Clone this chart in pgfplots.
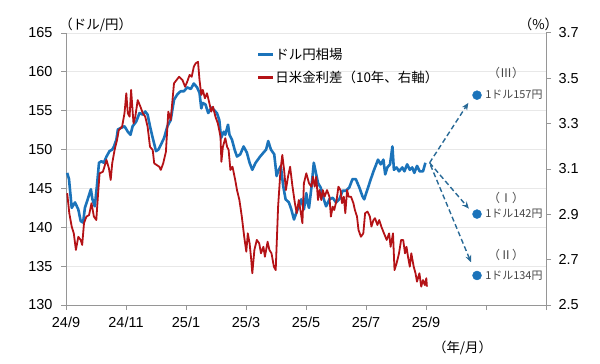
\documentclass[border=0pt]{standalone}
\usepackage{pgfplots}
\pgfplotsset{compat=1.18}
\usepackage{fontspec}
\setmainfont{Liberation Sans}
\newfontfamily\jp{Noto Sans CJK JP}
\usetikzlibrary{arrows.meta}
\definecolor{bl}{RGB}{27,115,186}
\definecolor{rd}{RGB}{180,18,22}
\definecolor{ar}{RGB}{40,105,150}
\definecolor{axgray}{RGB}{150,150,150}
\definecolor{grd}{RGB}{232,232,232}
\definecolor{lbl}{RGB}{70,70,70}

\pgfplotstableread{
m v
0.04 147.0
0.10 146.2
0.19 142.5
0.30 143.2
0.41 142.3
0.49 140.8
0.57 140.6
0.63 142.5
0.74 143.8
0.83 144.9
0.88 143.6
0.96 142.7
1.03 145.3
1.10 148.3
1.18 148.5
1.26 148.3
1.35 149.1
1.45 149.8
1.54 150.0
1.60 150.4
1.68 151.3
1.73 152.6
1.84 152.8
1.95 153.0
2.06 152.3
2.15 151.9
2.22 153.0
2.34 153.6
2.45 154.7
2.56 154.5
2.64 154.9
2.72 154.5
2.80 153.0
2.89 151.5
3.00 149.8
3.08 150.0
3.16 150.6
3.27 151.5
3.38 153.0
3.49 153.8
3.60 156.4
3.71 157.1
3.82 157.5
3.93 157.5
4.04 158.0
4.16 157.8
4.26 158.5
4.37 158.0
4.45 157.3
4.51 155.3
4.56 156.0
4.65 155.8
4.74 154.7
4.85 155.4
4.93 155.1
5.03 154.7
5.11 153.8
5.17 151.5
5.26 152.3
5.31 151.9
5.40 153.2
5.45 151.9
5.53 151.3
5.62 150.0
5.70 149.1
5.81 149.4
5.92 150.4
6.03 149.6
6.12 148.3
6.21 147.4
6.32 148.3
6.47 149.1
6.58 149.6
6.67 150.0
6.74 151.1
6.83 150.0
6.94 149.4
7.02 146.6
7.07 147.2
7.16 147.9
7.24 145.3
7.32 143.6
7.43 143.2
7.51 142.3
7.60 141.0
7.68 141.9
7.76 142.7
7.84 143.6
7.93 142.3
8.01 144.4
8.05 143.2
8.10 142.5
8.18 145.1
8.26 148.3
8.32 147.2
8.40 145.7
8.49 145.1
8.56 144.0
8.67 142.7
8.78 143.6
8.89 143.8
9.00 143.2
9.11 143.6
9.22 144.7
9.33 144.7
9.44 145.1
9.55 146.2
9.66 146.2
9.78 145.1
9.88 144.0
9.94 143.6
10.05 144.9
10.16 146.2
10.25 147.2
10.32 147.9
10.40 148.7
10.49 148.1
10.58 148.7
10.64 146.8
10.71 147.7
10.80 148.1
10.88 150.4
10.93 147.4
11.02 147.7
11.10 147.2
11.21 147.7
11.28 147.2
11.37 148.1
11.46 147.4
11.54 147.7
11.61 147.0
11.70 147.9
11.79 147.2
11.90 147.2
11.98 148.3
}\usdjpy

\pgfplotstableread{
m r
0.04 2.993
0.11 2.905
0.19 2.846
0.26 2.816
0.33 2.743
0.41 2.801
0.49 2.787
0.54 2.765
0.60 2.861
0.68 2.890
0.77 2.897
0.85 2.949
0.93 2.890
1.01 2.875
1.07 2.993
1.12 3.081
1.23 3.088
1.35 3.140
1.43 3.103
1.49 3.052
1.54 3.125
1.62 3.184
1.70 3.228
1.76 3.272
1.87 3.287
1.95 3.346
2.01 3.434
2.06 3.346
2.12 3.331
2.17 3.449
2.25 3.302
2.31 3.331
2.39 3.404
2.48 3.375
2.56 3.346
2.64 3.331
2.72 3.287
2.80 3.198
2.89 3.184
2.94 3.125
3.02 3.118
3.11 3.110
3.16 3.096
3.24 3.125
3.33 3.176
3.41 3.353
3.49 3.316
3.60 3.478
3.77 3.507
3.88 3.493
3.97 3.463
4.04 3.485
4.12 3.515
4.19 3.507
4.26 3.551
4.32 3.566
4.40 3.573
4.45 3.493
4.51 3.427
4.56 3.449
4.63 3.412
4.70 3.434
4.78 3.390
4.84 3.353
4.90 3.375
4.98 3.331
5.06 3.302
5.15 3.243
5.18 3.132
5.23 3.198
5.31 3.236
5.37 3.198
5.42 3.184
5.48 3.096
5.55 3.110
5.64 3.052
5.70 3.007
5.78 2.963
5.86 2.890
5.94 2.801
6.01 2.735
6.06 2.816
6.12 2.772
6.17 2.706
6.21 2.640
6.28 2.743
6.36 2.787
6.44 2.772
6.50 2.728
6.58 2.757
6.63 2.713
6.72 2.779
6.78 2.743
6.85 2.728
6.93 2.669
6.99 2.654
7.07 2.934
7.15 3.096
7.21 3.162
7.27 3.096
7.33 3.007
7.40 3.066
7.47 3.110
7.55 3.022
7.63 2.949
7.69 2.905
7.76 2.963
7.83 2.905
7.88 2.861
7.93 3.037
8.01 3.081
8.10 3.037
8.18 3.022
8.23 3.066
8.29 3.022
8.34 3.066
8.40 2.963
8.45 3.007
8.51 2.963
8.56 3.007
8.62 2.978
8.70 3.007
8.78 2.978
8.83 2.890
8.89 2.934
8.94 2.919
9.02 2.963
9.08 3.022
9.15 3.007
9.20 2.949
9.26 2.978
9.31 2.905
9.37 3.007
9.42 2.978
9.50 2.978
9.58 2.949
9.63 2.919
9.70 2.890
9.75 2.831
9.83 2.801
9.91 2.816
9.97 2.905
10.05 2.912
10.13 2.890
10.18 2.846
10.25 2.875
10.30 2.883
10.38 2.853
10.44 2.875
10.51 2.846
10.60 2.816
10.69 2.787
10.77 2.816
10.82 2.757
10.90 2.816
10.95 2.654
11.02 2.684
11.10 2.728
11.17 2.787
11.24 2.787
11.30 2.728
11.35 2.757
11.40 2.713
11.46 2.669
11.51 2.728
11.59 2.669
11.65 2.640
11.70 2.603
11.78 2.640
11.84 2.581
11.90 2.610
11.96 2.588
12.01 2.618
12.03 2.581
}\spread

\begin{document}
\begin{tikzpicture}[x=1bp,y=1bp]
\useasboundingbox (0,0) rectangle (600,363);
\begin{axis}[
  at={(66bp,58bp)}, anchor=south west,
  scale only axis, width=480bp, height=272bp,
  xmin=0, xmax=16, ymin=130, ymax=165,
  axis x line*=bottom, axis y line*=left,
  xtick={0,2,4,6,8,10,12,14,16},
  xticklabels={24/9,24/11,25/1,25/3,25/5,25/7,25/9,{},{}},
  ytick={130,135,140,145,150,155,160,165},
  ymajorgrids, grid style={grd, line width=0.8bp},
  axis line style={axgray, line width=1bp},
  tick style={axgray, line width=1bp},
  tick align=outside, major tick length=5bp,
  ticklabel style={font=\fontsize{14.5}{16}\selectfont, text=black},
  yticklabel style={xshift=-5bp},
  xticklabel style={yshift=-4bp},
  /pgf/number format/assume math mode=true,
  clip=false,
]
\addplot[bl, line width=2.6bp, line join=round] table[x=m,y=v] {\usdjpy};
\draw[ar, line width=1.4bp, dash pattern=on 5bp off 3bp, -{Stealth[length=7bp,width=6bp]}] (axis cs:12.12,148.3) -- (axis cs:13.41,156.0);
\draw[ar, line width=1.4bp, dash pattern=on 5bp off 3bp, -{Stealth[length=7bp,width=6bp]}] (axis cs:12.12,148.3) -- (axis cs:13.43,142.4);
\draw[ar, line width=1.4bp, dash pattern=on 5bp off 3bp, -{Stealth[length=7bp,width=6bp]}] (axis cs:12.15,148.0) -- (axis cs:13.50,135.5);
\addplot[only marks, mark=*, mark size=4.5bp, color=bl, mark options={draw=bl, fill=bl}] coordinates {(13.7,157.0) (13.7,141.7) (13.7,133.8)};
\node[font=\jp\fontsize{12}{13}\selectfont, text=lbl] at (axis cs:14.67,159.9) {（Ⅲ）};
\node[font=\jp\fontsize{12}{13}\selectfont, text=lbl] at (axis cs:14.67,143.8) {（Ⅰ）};
\node[font=\jp\fontsize{12}{13}\selectfont, text=lbl] at (axis cs:14.67,136.5) {（Ⅱ）};
\node[font=\jp\fontsize{11}{12}\selectfont, text=lbl, anchor=west, inner sep=0pt] at (axis cs:13.97,157.0) {1ドル157円};
\node[font=\jp\fontsize{11}{12}\selectfont, text=lbl, anchor=west, inner sep=0pt] at (axis cs:13.97,141.7) {1ドル142円};
\node[font=\jp\fontsize{11}{12}\selectfont, text=lbl, anchor=west, inner sep=0pt] at (axis cs:13.97,133.8) {1ドル134円};
\node[font=\jp\fontsize{13.5}{15}\selectfont, inner sep=0pt] at (axis cs:0.99,166.07) {（ドル/円）};
\node[font=\jp\fontsize{13.5}{15}\selectfont, inner sep=0pt] at (axis cs:15.75,166.07) {（\%）};
\node[font=\jp\fontsize{13.5}{15}\selectfont, inner sep=0pt] at (axis cs:13.22,124.5) {（年/月）};
\end{axis}
\begin{axis}[
  at={(66bp,58bp)}, anchor=south west,
  scale only axis, width=480bp, height=272bp,
  xmin=0, xmax=16, ymin=2.5, ymax=3.7,
  axis x line=none, axis y line*=right,
  ytick={2.5,2.7,2.9,3.1,3.3,3.5,3.7},
  yticklabel style={xshift=4bp, /pgf/number format/.cd, fixed, fixed zerofill, precision=1},
  axis line style={axgray, line width=1bp},
  tick style={axgray, line width=1bp},
  tick align=outside, major tick length=5bp,
  ticklabel style={font=\fontsize{14.5}{16}\selectfont, text=black},
  /pgf/number format/assume math mode=true,
  clip=false,
  legend style={at={(rel axis cs:0.397,0.949)}, anchor=north west, draw=none, fill=none,
    inner sep=0pt, row sep=8bp, font=\jp\fontsize{13.5}{15}\selectfont,
    nodes={inner sep=1bp}},
  legend cell align=left,
  legend image code/.code={\draw[#1, line width=2.6bp] (0bp,0bp) -- (15bp,0bp);},
]
\addlegendimage{bl}
\addlegendentry{ドル円相場}
\addplot[rd, line width=1.8bp, line join=round] table[x=m,y=r] {\spread};
\addlegendentry{日米金利差（10年、右軸）}
\end{axis}
\end{tikzpicture}
\end{document}
